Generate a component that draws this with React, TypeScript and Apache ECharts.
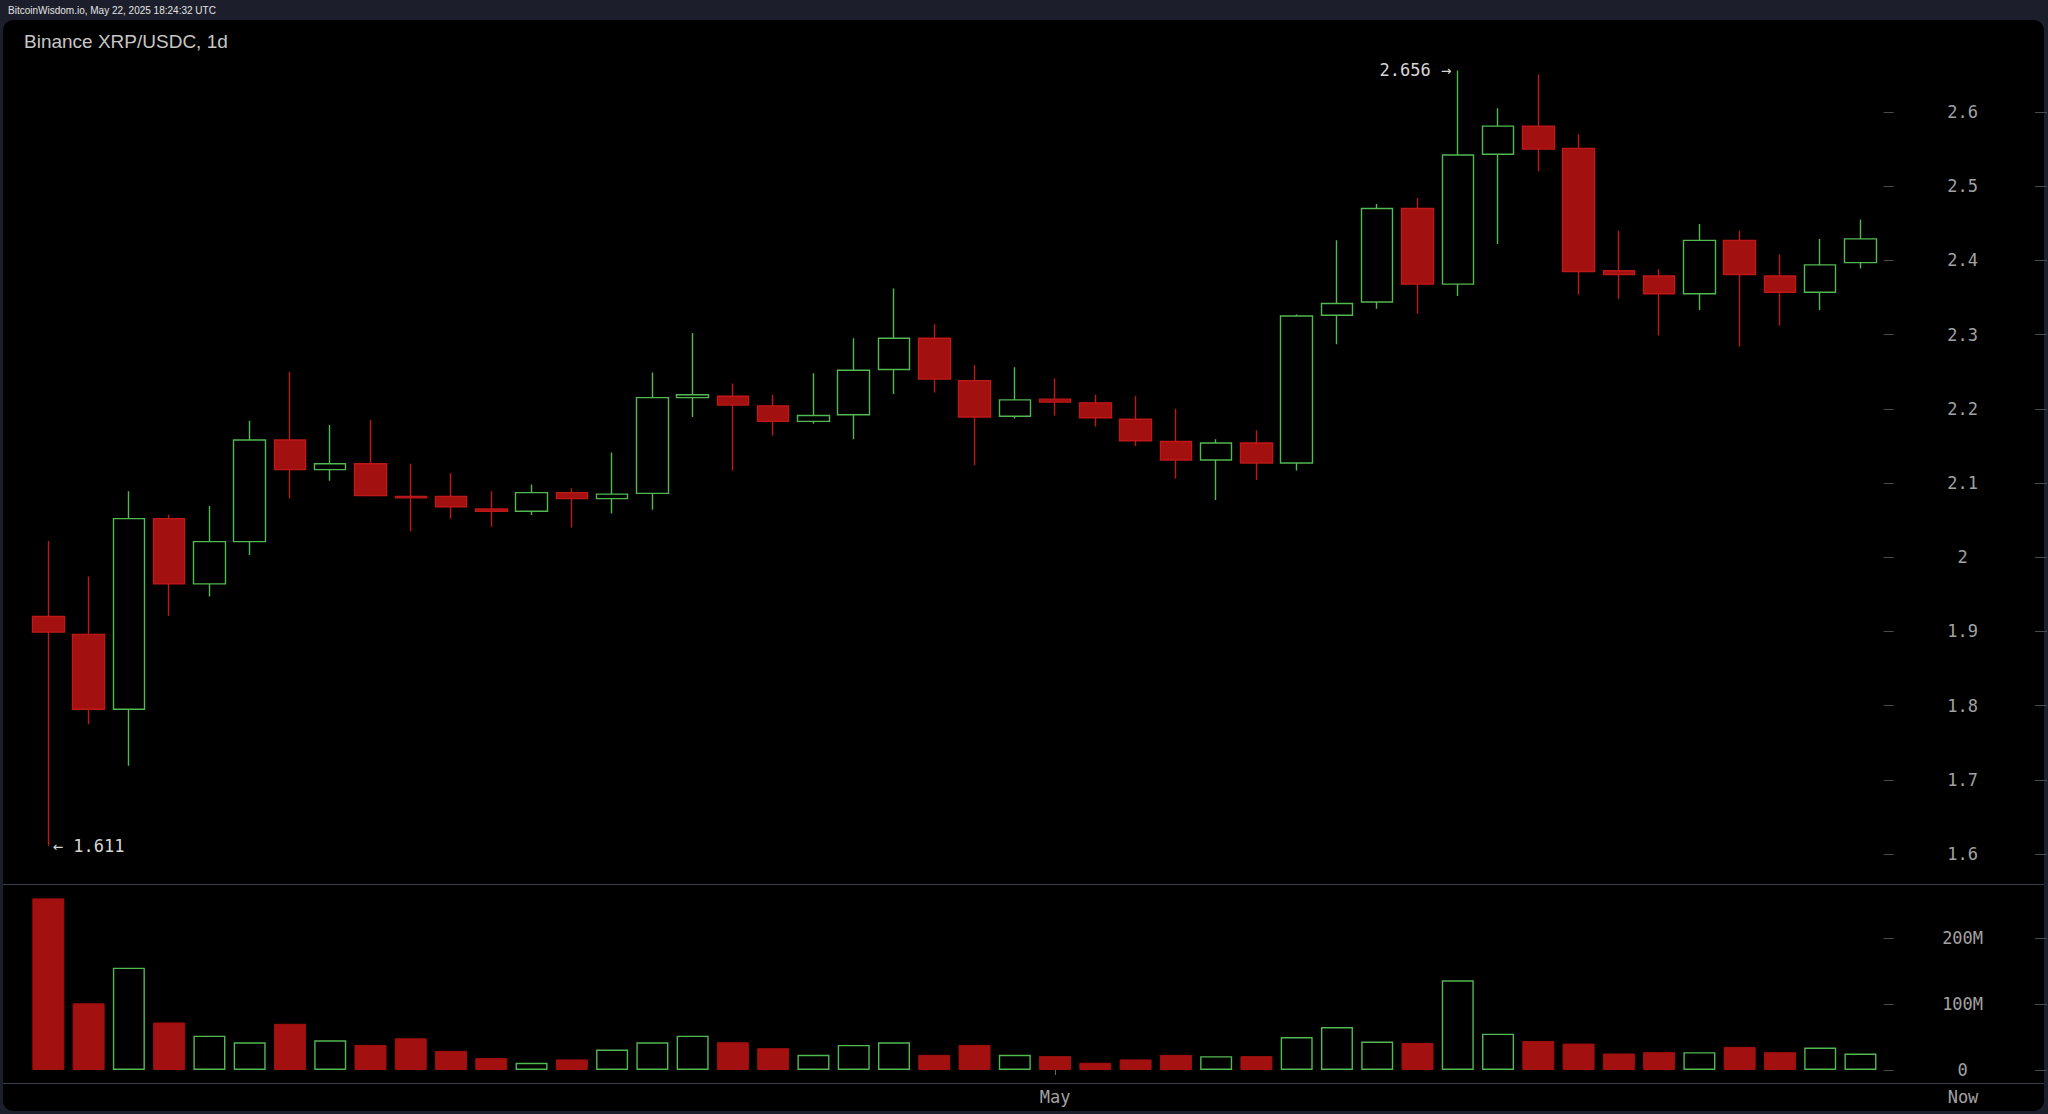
import React, { useEffect, useRef } from "react";
import * as echarts from "echarts";

const dates = [
  "04-06", "04-07", "04-08", "04-09", "04-10", "04-11", "04-12", "04-13", "04-14", "04-15",
  "04-16", "04-17", "04-18", "04-19", "04-20", "04-21", "04-22", "04-23", "04-24", "04-25",
  "04-26", "04-27", "04-28", "04-29", "04-30", "05-01", "05-02", "05-03", "05-04", "05-05",
  "05-06", "05-07", "05-08", "05-09", "05-10", "05-11", "05-12", "05-13", "05-14", "05-15",
  "05-16", "05-17", "05-18", "05-19", "05-20", "05-21",
];

const opens = [
  1.920, 1.896, 1.795, 2.052, 1.964, 2.021, 2.158, 2.118, 2.126, 2.082,
  2.082, 2.065, 2.062, 2.087, 2.079, 2.086, 2.215, 2.217, 2.204, 2.183,
  2.192, 2.253, 2.295, 2.238, 2.190, 2.213, 2.208, 2.186, 2.156, 2.131,
  2.154, 2.127, 2.326, 2.344, 2.470, 2.368, 2.543, 2.581, 2.551, 2.386,
  2.379, 2.355, 2.427, 2.379, 2.357, 2.397,
];
const closes = [
  1.899, 1.795, 2.052, 1.964, 2.021, 2.158, 2.118, 2.126, 2.083, 2.080,
  2.068, 2.062, 2.087, 2.079, 2.085, 2.215, 2.219, 2.205, 2.183, 2.191,
  2.252, 2.295, 2.240, 2.189, 2.212, 2.209, 2.188, 2.157, 2.131, 2.154,
  2.127, 2.325, 2.342, 2.470, 2.368, 2.542, 2.581, 2.550, 2.385, 2.381,
  2.355, 2.427, 2.381, 2.357, 2.394, 2.429,
];
const lows = [
  1.611, 1.775, 1.719, 1.921, 1.947, 2.003, 2.079, 2.103, 2.082, 2.035,
  2.052, 2.041, 2.057, 2.040, 2.059, 2.064, 2.189, 2.117, 2.164, 2.180,
  2.159, 2.220, 2.222, 2.124, 2.187, 2.191, 2.176, 2.150, 2.106, 2.077,
  2.104, 2.117, 2.287, 2.335, 2.328, 2.352, 2.422, 2.520, 2.354, 2.348,
  2.299, 2.333, 2.284, 2.312, 2.333, 2.389,
];
const highs = [
  2.022, 1.974, 2.089, 2.057, 2.069, 2.184, 2.250, 2.178, 2.185, 2.126,
  2.113, 2.089, 2.098, 2.093, 2.141, 2.249, 2.302, 2.234, 2.219, 2.248,
  2.295, 2.362, 2.314, 2.259, 2.256, 2.241, 2.219, 2.217, 2.200, 2.159,
  2.171, 2.327, 2.427, 2.476, 2.484, 2.656, 2.605, 2.651, 2.570, 2.440,
  2.388, 2.449, 2.440, 2.408, 2.429, 2.455,
];
// volume in millions
const volumes = [
  260, 101, 155, 72, 52, 42, 70, 45, 38, 48,
  29, 18, 11, 16, 31, 42, 52, 42, 33, 23,
  38, 42, 23, 38, 23, 21, 11, 16, 23, 21,
  21, 50, 65, 43, 41, 136, 55, 44, 40, 25,
  27, 27, 35, 27, 34, 25,
];

const priceTicks = [1.6, 1.7, 1.8, 1.9, 2, 2.1, 2.2, 2.3, 2.4, 2.5, 2.6];
const volumeTicks = [0, 100, 200];
const monthLabelDate = "05-01";
const monthLabel = "May";
const nowLabel = "Now";
const headerText = "BitcoinWisdom.io, May 22, 2025 18:24:32 UTC";
const titleText = "Binance XRP/USDC, 1d";

const GREEN = "#52b852";
const RED_FILL = "#a31010";
const RED_LINE = "#bf1818";
const LABEL = "#a2a2a2";
const TICK = "#4a4a4a";
const MONO = "'DejaVu Sans Mono', monospace";
const SANS = "'Liberation Sans', Arial, sans-serif";

export default function App() {
  const ref = useRef<HTMLDivElement>(null);

  useEffect(() => {
    document.body.style.margin = "0";
    if (!ref.current) return;
    const chart = echarts.init(ref.current, undefined, { renderer: "svg" });

    const candleData = dates.map((_, i) => [opens[i], closes[i], lows[i], highs[i]]);
    const volData = volumes.map((v, i) => ({
      value: v,
      itemStyle:
        closes[i] >= opens[i]
          ? { color: "#000", borderColor: GREEN, borderWidth: 1.4 }
          : { color: RED_FILL, borderColor: RED_FILL, borderWidth: 1 },
    }));

    const gridLeft = 28.2;
    const gridRight = 2048 - 1880.6;
    const priceMin = 1.6 - 30 / 742;
    const priceMax = 1.6 + 814 / 742;
    const volMax = (186 / 66) * 100;

    const tickStyle = { show: true, length: 10, lineStyle: { color: TICK, width: 1 } };

    chart.setOption({
      animation: false,
      backgroundColor: "transparent",
      graphic: [
        {
          type: "text",
          left: 8,
          top: 5,
          style: { text: headerText, fill: "#e2e2e2", font: `10px ${SANS}` },
        },
        {
          type: "text",
          left: 24,
          top: 32,
          style: { text: titleText, fill: "#c6c6c6", font: `19px ${SANS}` },
        },
        {
          type: "line",
          shape: { x1: 3, y1: 884.5, x2: 2044, y2: 884.5 },
          style: { stroke: "#3a3d45", lineWidth: 1.2 },
        },
        {
          type: "line",
          shape: { x1: 3, y1: 1083.5, x2: 2044, y2: 1083.5 },
          style: { stroke: "#3a3d45", lineWidth: 1.2 },
        },
        {
          type: "text",
          x: 1963,
          y: 1097,
          style: {
            text: nowLabel,
            fill: LABEL,
            font: `17px ${MONO}`,
            align: "center",
            verticalAlign: "middle",
          },
        },
      ],
      grid: [
        { left: gridLeft, right: gridRight, top: 40, height: 844 },
        { left: gridLeft, right: gridRight, top: 884, height: 186 },
      ],
      xAxis: [
        {
          type: "category",
          gridIndex: 0,
          data: dates,
          boundaryGap: true,
          axisLine: { show: false },
          axisTick: { show: false },
          axisLabel: { show: false },
          splitLine: { show: false },
        },
        {
          type: "category",
          gridIndex: 1,
          data: dates,
          boundaryGap: true,
          offset: 13,
          axisLine: { show: false },
          axisTick: {
            show: true,
            alignWithLabel: true,
            length: 5,
            interval: (_i: number, v: string) => v === monthLabelDate,
            lineStyle: { color: "#666" },
          },
          axisLabel: {
            show: true,
            interval: (_i: number, v: string) => v === monthLabelDate,
            formatter: () => monthLabel,
            color: LABEL,
            fontFamily: MONO,
            fontSize: 17,
            margin: 5,
          },
          splitLine: { show: false },
        },
      ],
      yAxis: [
        {
          type: "value",
          gridIndex: 0,
          position: "right",
          min: priceMin,
          max: priceMax,
          offset: 3,
          splitLine: { show: false },
          axisLine: { show: false },
          axisTick: { ...tickStyle, customValues: priceTicks },
          axisLabel: {
            customValues: priceTicks,
            color: LABEL,
            fontFamily: MONO,
            fontSize: 17,
            align: "center",
            margin: 79,
            formatter: (v: number) => String(v),
          },
        },
        {
          type: "value",
          gridIndex: 1,
          position: "right",
          min: 0,
          max: volMax,
          offset: 3,
          splitLine: { show: false },
          axisLine: { show: false },
          axisTick: { ...tickStyle, customValues: volumeTicks },
          axisLabel: {
            customValues: volumeTicks,
            color: LABEL,
            fontFamily: MONO,
            fontSize: 17,
            align: "center",
            margin: 79,
            formatter: (v: number) => (v === 0 ? "0" : `${v}M`),
          },
        },
        {
          type: "value",
          gridIndex: 0,
          position: "right",
          min: priceMin,
          max: priceMax,
          offset: 154.4,
          splitLine: { show: false },
          axisLine: { show: false },
          axisTick: { ...tickStyle, length: 12, customValues: priceTicks },
          axisLabel: { show: false },
        },
        {
          type: "value",
          gridIndex: 1,
          position: "right",
          min: 0,
          max: volMax,
          offset: 154.4,
          splitLine: { show: false },
          axisLine: { show: false },
          axisTick: { ...tickStyle, length: 12, customValues: volumeTicks },
          axisLabel: { show: false },
        },
      ],
      series: [
        {
          type: "candlestick",
          xAxisIndex: 0,
          yAxisIndex: 0,
          data: candleData,
          barWidth: 32,
          itemStyle: {
            color: "#000",
            color0: RED_FILL,
            borderColor: GREEN,
            borderColor0: RED_LINE,
            borderWidth: 1.4,
          },
          markPoint: {
            symbol: "circle",
            symbolSize: 1,
            itemStyle: { color: "rgba(0,0,0,0)" },
            label: {
              show: true,
              color: "#d6d6d6",
              fontFamily: MONO,
              fontSize: 17,
            },
            data: [
              {
                type: "max",
                valueDim: "highest",
                label: {
                  position: "left",
                  distance: 6,
                  formatter: (p: any) => `${p.value} →`,
                },
              },
              {
                type: "min",
                valueDim: "lowest",
                label: {
                  position: "right",
                  distance: 4,
                  formatter: (p: any) => `← ${p.value}`,
                },
              },
            ],
          },
        },
        {
          type: "bar",
          xAxisIndex: 1,
          yAxisIndex: 1,
          data: volData,
          barWidth: 32,
        },
      ],
    });

    return () => chart.dispose();
  }, []);

  return (
    <div
      style={{
        position: "relative",
        width: 2048,
        height: 1114,
        background: "#1c1f2b",
        overflow: "hidden",
      }}
    >
      <div
        style={{
          position: "absolute",
          left: 3,
          top: 20,
          width: 2041,
          height: 1091,
          background: "#000",
          borderRadius: 10,
        }}
      />
      <div
        ref={ref}
        style={{ position: "absolute", left: 0, top: 0, width: 2048, height: 1114 }}
      />
    </div>
  );
}
